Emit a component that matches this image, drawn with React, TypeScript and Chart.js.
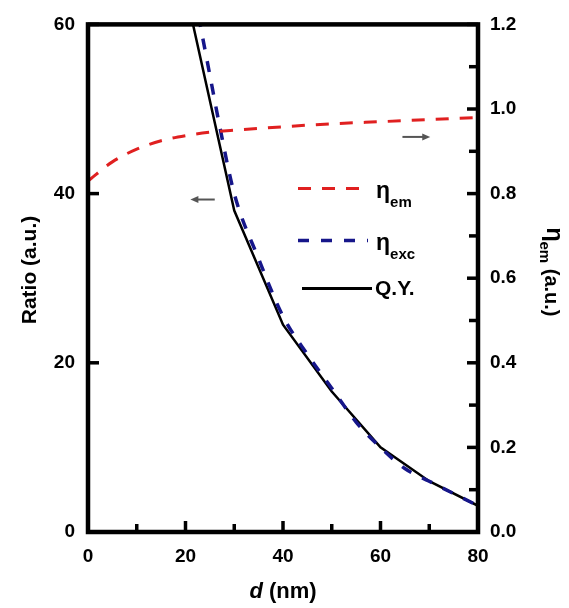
import React, { useEffect, useRef } from "react";
import { Chart, registerables } from "chart.js";
Chart.register(...registerables);

// ---- data ----
const qyX = [20, 30, 40, 50, 60, 70, 80];
const qyY = [64, 38, 24.5, 16.6, 10, 6, 3.1];

const excX = [20, 23, 25, 27, 30, 35, 40, 45, 50, 55, 60, 65, 70, 80];
const excY = [69, 60, 54, 48, 40, 32.3, 25.5, 21, 17, 13, 10, 7.5, 6, 3.1];

const emX = [0, 5, 10, 15, 20, 25, 30, 40, 50, 60, 70, 80];
const emY = [0.83, 0.875, 0.905, 0.925, 0.937, 0.945, 0.95, 0.958, 0.965, 0.97, 0.975, 0.98];

const xMajorTicks = [0, 20, 40, 60, 80];
const xMinorTicks = [10, 30, 50, 70];
const leftTicks = [0, 20, 40, 60];
const rightMajorTicks = [0, 0.2, 0.4, 0.6, 0.8, 1.0, 1.2];
const rightMinorTicks = [0.1, 0.3, 0.5, 0.7, 0.9, 1.1];

// annotation arrows (data units)
const leftArrow = { from: 26, to: 21, y: 39.3 };
const rightArrow = { from: 64.5, to: 70.2, y: 0.934 };

const FONT = "'Liberation Sans', Arial, sans-serif";
const RED = "#e02020";
const BLUE = "#16168a";

function pts(xs: number[], ys: number[]) {
  return xs.map((x, i) => ({ x, y: ys[i] }));
}

const decor = {
  id: "decor",
  afterDatasetsDraw(chart: any) {
    const { ctx, chartArea: ca, scales } = chart;
    const sx = scales.x, yl = scales.y, yr = scales.y1;
    ctx.save();
    ctx.strokeStyle = "#000";
    ctx.lineCap = "butt";
    const seg = (x1: number, y1: number, x2: number, y2: number) => {
      ctx.beginPath(); ctx.moveTo(x1, y1); ctx.lineTo(x2, y2); ctx.stroke();
    };
    // inward ticks
    ctx.lineWidth = 3.5;
    xMajorTicks.forEach(v => { const p = sx.getPixelForValue(v); seg(p, ca.bottom, p, ca.bottom - 11); });
    xMinorTicks.forEach(v => { const p = sx.getPixelForValue(v); seg(p, ca.bottom, p, ca.bottom - 8); });
    leftTicks.forEach(v => { const p = yl.getPixelForValue(v); seg(ca.left, p, ca.left + 11, p); });
    rightMajorTicks.forEach(v => { const p = yr.getPixelForValue(v); seg(ca.right, p, ca.right - 11, p); });
    rightMinorTicks.forEach(v => { const p = yr.getPixelForValue(v); seg(ca.right, p, ca.right - 9, p); });
    // frame
    ctx.lineWidth = 4.5;
    ctx.strokeRect(ca.left, ca.top, ca.right - ca.left, ca.bottom - ca.top);

    // arrows
    const arrow = (x1: number, x2: number, y: number) => {
      ctx.strokeStyle = "#555"; ctx.fillStyle = "#555"; ctx.lineWidth = 2;
      const dir = Math.sign(x2 - x1);
      seg(x1, y, x2 - dir * 5, y);
      ctx.beginPath();
      ctx.moveTo(x2, y);
      ctx.lineTo(x2 - dir * 8, y - 3.5);
      ctx.lineTo(x2 - dir * 8, y + 3.5);
      ctx.closePath(); ctx.fill();
    };
    arrow(sx.getPixelForValue(leftArrow.from), sx.getPixelForValue(leftArrow.to), yl.getPixelForValue(leftArrow.y));
    arrow(sx.getPixelForValue(rightArrow.from), sx.getPixelForValue(rightArrow.to), yr.getPixelForValue(rightArrow.y));

    // legend
    const lx0 = ca.left + 210, lx1 = ca.left + 280;
    const items = [
      { color: RED, dash: [13, 11], w: 3, y: ca.top + 164, main: "\u03b7", sub: "em" },
      { color: BLUE, dash: [11, 12], w: 3.5, y: ca.top + 216, main: "\u03b7", sub: "exc" },
      { color: "#000", dash: [], w: 3, y: ca.top + 264, main: "Q.Y.", sub: "" },
    ];
    items.forEach(it => {
      ctx.strokeStyle = it.color; ctx.lineWidth = it.w; ctx.setLineDash(it.dash);
      if (it.sub) seg(lx0, it.y, lx1, it.y);
      else seg(lx0 + 4, it.y, lx1 + 4, it.y);
      ctx.setLineDash([]);
      ctx.fillStyle = "#000";
      ctx.textAlign = "left";
      if (it.sub) {
        ctx.font = `bold 23px ${FONT}`;
        ctx.textBaseline = "alphabetic";
        ctx.fillText(it.main, lx1 + 8, it.y + 10);
        const w = ctx.measureText(it.main).width;
        ctx.font = `bold 15px ${FONT}`;
        ctx.fillText(it.sub, lx1 + 8 + w, it.y + 19);
      } else {
        ctx.font = `bold 21px ${FONT}`;
        ctx.textBaseline = "middle";
        ctx.fillText(it.main, lx1 + 7, it.y + 1);
      }
    });

    // axis titles
    ctx.fillStyle = "#000";
    // left
    ctx.save();
    ctx.translate(30, 270);
    ctx.rotate(-Math.PI / 2);
    ctx.font = `bold 21px ${FONT}`;
    ctx.textAlign = "center"; ctx.textBaseline = "middle";
    ctx.fillText("Ratio (a.u.)", 0, 0);
    ctx.restore();
    // right
    ctx.save();
    ctx.translate(551, 272);
    ctx.rotate(Math.PI / 2);
    ctx.textBaseline = "middle"; ctx.textAlign = "left";
    const f1 = `bold 23px ${FONT}`, f2 = `bold 15px ${FONT}`, f3 = `bold 20px ${FONT}`;
    ctx.font = f1; const w1 = ctx.measureText("\u03b7").width;
    ctx.font = f2; const w2 = ctx.measureText("em").width;
    ctx.font = f3; const w3 = ctx.measureText(" (a.u.)").width;
    let cx = -(w1 + w2 + w3) / 2;
    ctx.font = f1; ctx.fillText("\u03b7", cx, -2); cx += w1;
    ctx.font = f2; ctx.fillText("em", cx, 7); cx += w2;
    ctx.font = f3; ctx.fillText(" (a.u.)", cx, 0);
    ctx.restore();
    // bottom
    ctx.textBaseline = "middle"; ctx.textAlign = "left";
    const fi = `italic bold 22px ${FONT}`, fb = `bold 22px ${FONT}`;
    ctx.font = fi; const wd = ctx.measureText("d").width;
    ctx.font = fb; const wr = ctx.measureText(" (nm)").width;
    const bx = (ca.left + ca.right) / 2 - (wd + wr) / 2;
    ctx.font = fi; ctx.fillText("d", bx, 592);
    ctx.font = fb; ctx.fillText(" (nm)", bx + wd, 592);

    ctx.restore();
  },
};

export default function App() {
  const ref = useRef<HTMLCanvasElement | null>(null);
  useEffect(() => {
    if (!ref.current) return;
    const tickFont = { family: FONT, size: 19, weight: "bold" as const };
    const chart = new Chart(ref.current, {
      type: "line",
      data: {
        datasets: [
          {
            label: "\u03b7em",
            data: pts(emX, emY),
            yAxisID: "y1",
            borderColor: RED,
            borderWidth: 3,
            borderDash: [13, 11],
            pointRadius: 0,
            tension: 0.4,
            cubicInterpolationMode: "monotone",
            fill: false,
            clip: 0,
          },
          {
            label: "\u03b7exc",
            data: pts(excX, excY),
            yAxisID: "y",
            borderColor: BLUE,
            borderWidth: 3.5,
            borderDash: [11, 12],
            pointRadius: 0,
            tension: 0.3,
            cubicInterpolationMode: "monotone",
            fill: false,
            clip: 0,
          },
          {
            label: "Q.Y.",
            data: pts(qyX, qyY),
            yAxisID: "y",
            borderColor: "#000",
            borderWidth: 2.5,
            pointRadius: 0,
            tension: 0,
            fill: false,
            clip: 0,
          },
        ] as any,
      },
      options: {
        responsive: false,
        animation: false,
        devicePixelRatio: 1,
        layout: { padding: { top: 23, left: 0, right: 0, bottom: 0 } },
        plugins: { legend: { display: false }, tooltip: { enabled: false } },
        scales: {
          x: {
            type: "linear",
            min: 0, max: 80,
            grid: { display: false, drawTicks: false },
            border: { display: false },
            ticks: { stepSize: 20, font: tickFont, color: "#000", padding: 13 },
            afterFit: (s: any) => { s.height = 76; },
          },
          y: {
            type: "linear",
            position: "left",
            min: 0, max: 60,
            grid: { display: false, drawTicks: false },
            border: { display: false },
            ticks: { stepSize: 20, font: tickFont, color: "#000", padding: 13 },
            afterFit: (s: any) => { s.width = 88; },
          },
          y1: {
            type: "linear",
            position: "right",
            min: 0, max: 1.2,
            grid: { display: false, drawTicks: false },
            border: { display: false },
            ticks: {
              stepSize: 0.2, font: tickFont, color: "#000", padding: 12,
              callback: (v: any) => Number(v).toFixed(1),
            },
            afterFit: (s: any) => { s.width = 91; },
          },
        },
      },
      plugins: [decor],
    });
    return () => chart.destroy();
  }, []);
  return (
    <div style={{ position: "fixed", left: 0, top: 0, width: 569, height: 608, background: "#fff" }}>
      <canvas ref={ref} width={569} height={608} style={{ width: 569, height: 608, display: "block" }} />
    </div>
  );
}
